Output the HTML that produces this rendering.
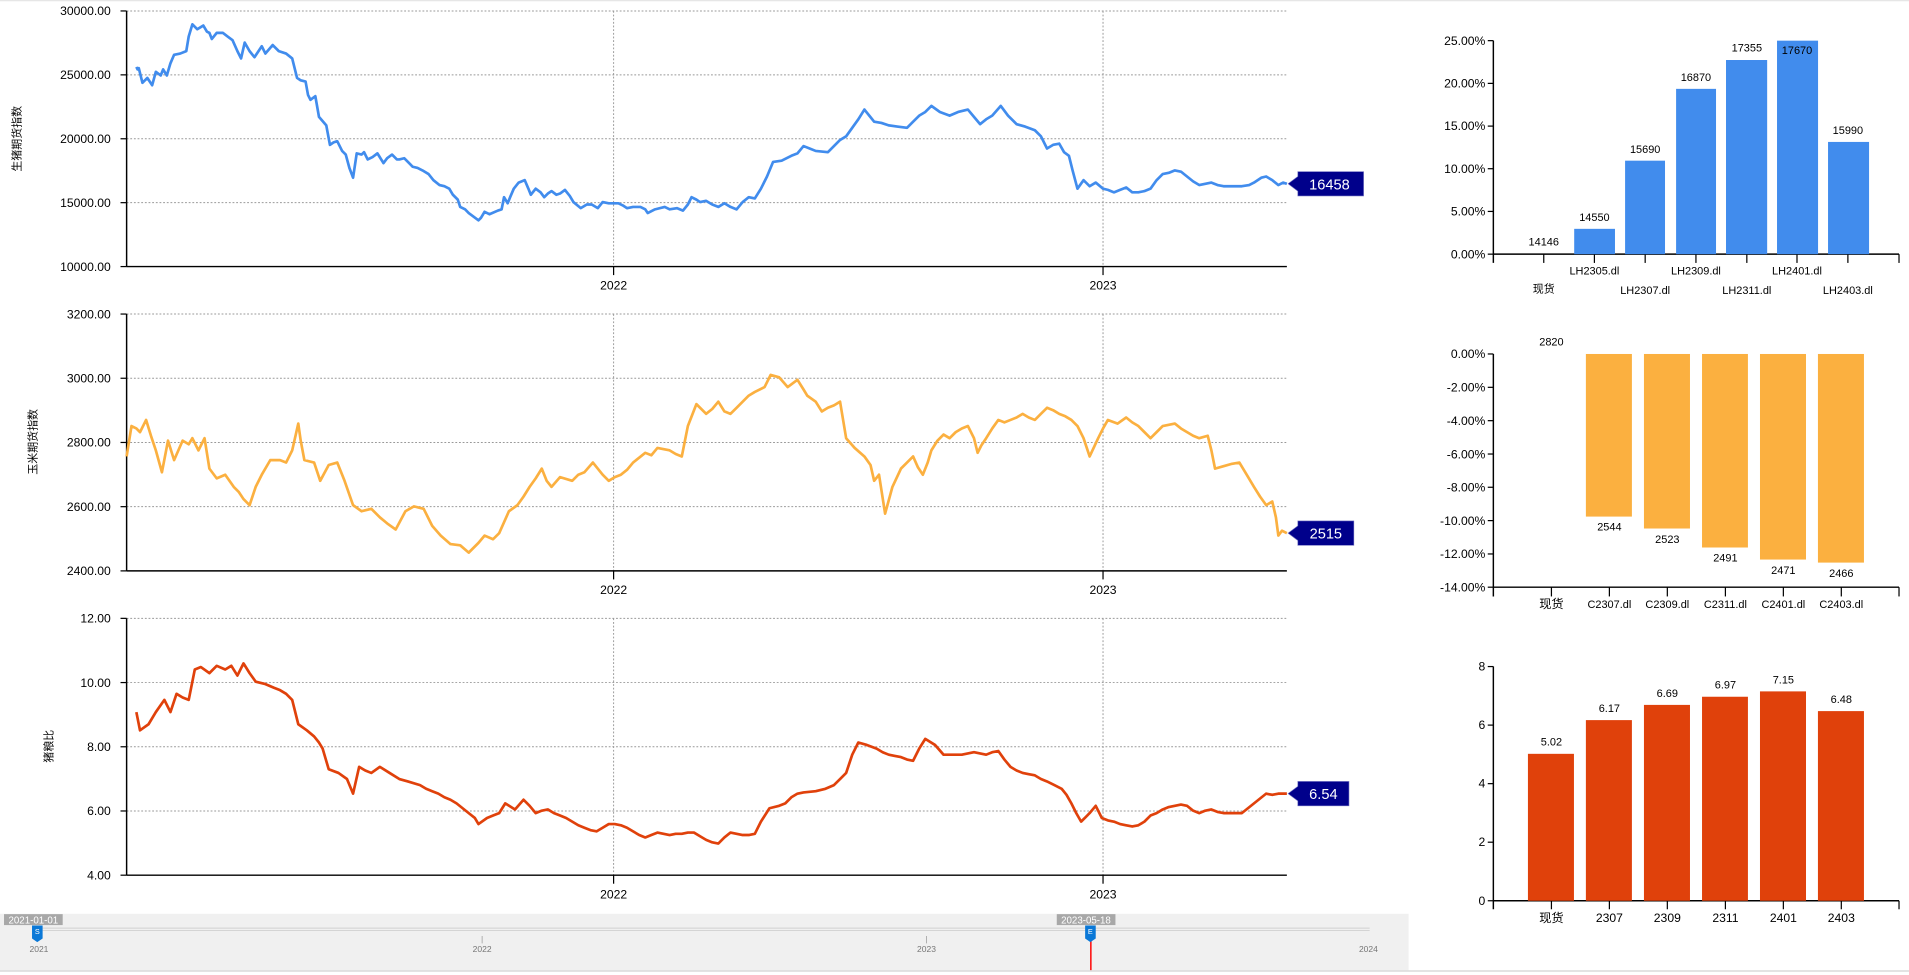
<!DOCTYPE html>
<html><head><meta charset="utf-8"><style>
html,body{margin:0;padding:0;background:#fff;width:1909px;height:975px;overflow:hidden}
svg{display:block}
text{font-family:"Liberation Sans","Noto Sans CJK SC",sans-serif;fill:#000}
.g{stroke:#999;stroke-width:0.8;stroke-dasharray:1.5 1.5}
.ax{stroke:#000;stroke-width:1.2;fill:none}
.yl{font-size:10px;text-anchor:end}
.xl{font-size:10px;text-anchor:middle}
.bl{font-size:9px;text-anchor:middle}
.ser{fill:none;stroke-width:2.2;stroke-linejoin:round}
</style></head><body>
<svg width="1909" height="975" viewBox="0 0 1568 801" preserveAspectRatio="none">
<line x1="0" y1="0.5" x2="1568" y2="0.5" stroke="#e6e6e6"/>

<!-- Chart 1 -->
<g>
<line class="g" x1="104" y1="9" x2="1057" y2="9"/><line class="g" x1="104" y1="61.5" x2="1057" y2="61.5"/><line class="g" x1="104" y1="114" x2="1057" y2="114"/><line class="g" x1="104" y1="166.5" x2="1057" y2="166.5"/>
<line class="g" x1="504" y1="9" x2="504" y2="219"/><line class="g" x1="906" y1="9" x2="906" y2="219"/>
<line class="ax" x1="104" y1="9" x2="104" y2="219"/><line class="ax" x1="104" y1="219" x2="1057" y2="219"/>
<g stroke="#000"><line x1="99" y1="9" x2="104" y2="9"/><line x1="99" y1="61.5" x2="104" y2="61.5"/><line x1="99" y1="114" x2="104" y2="114"/><line x1="99" y1="166.5" x2="104" y2="166.5"/><line x1="99" y1="219" x2="104" y2="219"/><line x1="504" y1="219" x2="504" y2="226"/><line x1="906" y1="219" x2="906" y2="226"/></g>
<text class="yl" x="91" y="12.5">30000.00</text><text class="yl" x="91" y="65">25000.00</text><text class="yl" x="91" y="117.5">20000.00</text><text class="yl" x="91" y="170">15000.00</text><text class="yl" x="91" y="222.5">10000.00</text>
<text class="xl" x="504" y="238">2022</text><text class="xl" x="906" y="238">2023</text>
<text font-size="9" transform="translate(17,114) rotate(-90)" text-anchor="middle">生猪期货指数</text>
<polyline class="ser" stroke="#418ced" points="112,55 113,57 114,56 117,68 121,64 125,70 128,59 132,62 134,57 137,62 140,52 143,45 148,44 153,42 155,30 158,20 162,24 167,21 170,26 172,27 174,32 178,27 183,27 187,30 191,33 195,42 198,48 201,35 205,42 209,47 215,38 218,44 224,37 229,42 235,44 240,48 244,64 247,66 251,67 253,78 255,82 259,79 262,96 268,103 271,119 274,117 277,116 281,124 284,127 287,138 290,146 293,126 297,127 299,125 302,131 306,129 310,126 315,134 318,130 322,127 326,131 328,131 332,130 336,134 339,137 343,138 347,140 352,143 356,148 361,152 365,153 369,155 372,160 376,164 378,170 382,172 385,175 389,178 393,181 395,179 398,174 402,176 409,173 412,172 414,162 417,167 419,162 422,155 426,150 431,148 434,155 436,160 440,155 444,158 447,162 450,159 453,157 457,160 460,159 464,156 468,161 471,166 477,171 482,168 486,168 491,171 495,166 500,167 504,167 508,167 512,169 515,171 520,170 526,170 530,172 532,175 538,172 546,170 550,172 556,171 561,173 565,168 568,162 572,164 575,166 580,165 585,168 590,170 595,167 600,170 605,172 610,166 615,162 620,163 625,155 630,145 635,133 642,132 650,128 655,126 660,120 665,122 670,124 680,125 685,120 690,115 695,112 700,105 705,98 710,90 714,95 718,100 724,101 730,103 737,104 745,105 750,100 755,95 760,92 765,87 772,92 780,95 787,92 795,90 800,96 805,102 810,98 815,95 822,87 828,95 835,102 842,104 850,107 855,112 860,122 865,119 870,118 874,125 878,128 881,140 885,155 890,148 895,153 900,150 906,155 910,156 915,158 920,156 925,154 930,158 935,158 940,157 945,155 950,148 955,143 960,142 965,140 970,141 975,145 980,149 985,152 990,151 995,150 1000,152 1005,153 1012,153 1020,153 1026,152 1030,150 1036,146 1040,145 1045,148 1050,152 1054,150 1057,151"/>
<polygon points="1058,151 1066,145 1066,141 1120,141 1120,161 1066,161 1066,157" fill="#00008b" stroke="#6b6bbf" stroke-width="0.5"/>
<text x="1092" y="155.5" text-anchor="middle" font-size="12" style="fill:#fff">16458</text>
</g>

<!-- Chart 2 -->
<g>
<line class="g" x1="104" y1="258" x2="1057" y2="258"/><line class="g" x1="104" y1="310.75" x2="1057" y2="310.75"/><line class="g" x1="104" y1="363.5" x2="1057" y2="363.5"/><line class="g" x1="104" y1="416.25" x2="1057" y2="416.25"/>
<line class="g" x1="504" y1="258" x2="504" y2="469"/><line class="g" x1="906" y1="258" x2="906" y2="469"/>
<line class="ax" x1="104" y1="258" x2="104" y2="469"/><line class="ax" x1="104" y1="469" x2="1057" y2="469"/>
<g stroke="#000"><line x1="99" y1="258" x2="104" y2="258"/><line x1="99" y1="310.75" x2="104" y2="310.75"/><line x1="99" y1="363.5" x2="104" y2="363.5"/><line x1="99" y1="416.25" x2="104" y2="416.25"/><line x1="99" y1="469" x2="104" y2="469"/><line x1="504" y1="469" x2="504" y2="476"/><line x1="906" y1="469" x2="906" y2="476"/></g>
<text class="yl" x="91" y="261.5">3200.00</text><text class="yl" x="91" y="314.25">3000.00</text><text class="yl" x="91" y="367">2800.00</text><text class="yl" x="91" y="419.75">2600.00</text><text class="yl" x="91" y="472.5">2400.00</text>
<text class="xl" x="504" y="488">2022</text><text class="xl" x="906" y="488">2023</text>
<text font-size="9" transform="translate(30,363) rotate(-90)" text-anchor="middle">玉米期货指数</text>
<polyline class="ser" stroke="#fbb040" points="104,375 108,350 112,352 115,355 120,345 124,358 128,370 133,388 138,362 143,378 150,362 155,365 158,360 163,370 168,360 172,385 178,393 185,390 192,400 196,404 200,410 205,415 210,400 215,390 222,378 230,378 235,380 240,370 245,348 247,362 250,378 258,380 263,395 270,382 277,380 283,395 290,415 297,420 305,418 312,425 318,430 325,435 333,420 340,416 348,418 355,432 362,440 370,447 378,448 385,454 393,446 398,440 405,443 410,438 418,420 425,415 430,408 435,400 440,393 445,385 449,395 453,400 460,392 470,395 475,390 480,388 487,380 495,390 500,395 505,392 510,390 515,386 520,380 525,376 530,372 535,374 540,368 550,370 555,373 560,375 565,350 572,332 580,340 585,336 590,330 595,338 600,340 605,335 610,330 615,325 620,322 628,318 633,308 640,310 647,318 655,312 660,320 663,325 670,330 675,338 680,335 685,333 690,330 695,360 702,368 710,375 715,382 718,395 722,390 727,422 733,400 740,385 745,380 750,375 754,384 758,390 762,380 765,370 770,362 775,357 780,360 785,355 790,352 795,350 800,360 803,372 806,366 810,360 815,352 820,345 825,347 830,345 835,343 840,340 845,343 850,345 855,340 860,335 865,337 870,340 875,342 880,345 885,350 890,360 895,375 902,360 906,352 910,345 918,348 925,343 930,347 935,350 940,355 945,360 950,355 955,350 960,349 965,348 970,352 975,355 980,358 985,360 992,358 995,370 998,385 1005,383 1012,381 1018,380 1024,390 1030,400 1035,408 1040,415 1045,412 1048,425 1050,440 1053,436 1057,438"/>
<polygon points="1058,438 1066,432 1066,428 1112,428 1112,448 1066,448 1066,444" fill="#00008b" stroke="#6b6bbf" stroke-width="0.5"/>
<text x="1089" y="442.5" text-anchor="middle" font-size="12" style="fill:#fff">2515</text>
</g>

<!-- Chart 3 -->
<g>
<line class="g" x1="104" y1="508" x2="1057" y2="508"/><line class="g" x1="104" y1="560.75" x2="1057" y2="560.75"/><line class="g" x1="104" y1="613.5" x2="1057" y2="613.5"/><line class="g" x1="104" y1="666.25" x2="1057" y2="666.25"/>
<line class="g" x1="504" y1="508" x2="504" y2="719"/><line class="g" x1="906" y1="508" x2="906" y2="719"/>
<line class="ax" x1="104" y1="508" x2="104" y2="719"/><line class="ax" x1="104" y1="719" x2="1057" y2="719"/>
<g stroke="#000"><line x1="99" y1="508" x2="104" y2="508"/><line x1="99" y1="560.75" x2="104" y2="560.75"/><line x1="99" y1="613.5" x2="104" y2="613.5"/><line x1="99" y1="666.25" x2="104" y2="666.25"/><line x1="99" y1="719" x2="104" y2="719"/><line x1="504" y1="719" x2="504" y2="726"/><line x1="906" y1="719" x2="906" y2="726"/></g>
<text class="yl" x="91" y="511.5">12.00</text><text class="yl" x="91" y="564.25">10.00</text><text class="yl" x="91" y="617">8.00</text><text class="yl" x="91" y="669.75">6.00</text><text class="yl" x="91" y="722.5">4.00</text>
<text class="xl" x="504" y="738">2022</text><text class="xl" x="906" y="738">2023</text>
<text font-size="9" transform="translate(43,613) rotate(-90)" text-anchor="middle">猪粮比</text>
<polyline class="ser" stroke="#e0410b" points="112,585 115,600 122,595 128,585 135,575 140,585 145,570 150,573 155,575 160,550 165,548 172,553 178,547 185,550 190,547 195,555 200,545 205,553 210,560 218,562 225,565 230,567 235,570 240,575 245,595 252,600 258,605 262,610 265,615 270,632 278,635 285,640 290,652 295,630 300,633 305,635 312,630 320,635 328,640 335,642 345,645 350,648 355,650 360,652 365,655 370,657 375,660 380,664 385,668 390,672 393,677 400,672 405,670 410,668 415,660 423,665 430,657 435,662 440,668 445,666 450,665 455,668 460,670 465,672 470,675 475,678 480,680 485,682 490,683 495,680 500,677 505,677 510,678 515,680 520,683 525,686 530,688 535,686 540,684 545,685 550,686 555,685 560,685 565,684 570,684 575,687 580,690 585,692 590,693 595,688 600,684 605,685 610,686 615,686 620,685 625,675 632,664 640,662 645,660 650,655 655,652 660,651 670,650 678,648 685,645 690,640 695,635 700,620 705,610 712,612 720,615 725,618 730,620 735,621 740,622 745,624 750,625 755,615 760,607 768,612 775,620 782,620 790,620 795,619 800,618 805,619 810,620 815,618 820,617 825,624 830,630 835,633 840,635 845,636 850,637 855,640 860,642 866,645 872,648 876,653 880,660 884,668 888,675 892,671 895,668 900,662 905,672 910,674 915,675 920,677 925,678 930,679 935,678 940,675 945,670 950,668 955,665 960,663 965,662 970,661 975,662 980,666 985,668 990,666 995,665 1000,667 1005,668 1012,668 1020,668 1025,664 1030,660 1035,656 1040,652 1045,653 1050,652 1054,652 1057,652"/>
<polygon points="1058,652 1066,646 1066,642 1108,642 1108,662 1066,662 1066,658" fill="#00008b" stroke="#6b6bbf" stroke-width="0.5"/>
<text x="1087" y="656.5" text-anchor="middle" font-size="12" style="fill:#fff">6.54</text>
</g>

<!-- Bar chart 1 -->
<g>
<line class="ax" x1="1226.6" y1="33.4" x2="1226.6" y2="216"/><line class="ax" x1="1226.6" y1="208.8" x2="1559.8" y2="208.8"/>
<g stroke="#000"><line x1="1222" y1="33.4" x2="1226.6" y2="33.4"/><line x1="1222" y1="68.5" x2="1226.6" y2="68.5"/><line x1="1222" y1="103.6" x2="1226.6" y2="103.6"/><line x1="1222" y1="138.6" x2="1226.6" y2="138.6"/><line x1="1222" y1="173.7" x2="1226.6" y2="173.7"/><line x1="1222" y1="208.8" x2="1226.6" y2="208.8"/>
<line x1="1268" y1="208.8" x2="1268" y2="216"/><line x1="1309.6" y1="208.8" x2="1309.6" y2="216"/><line x1="1351.3" y1="208.8" x2="1351.3" y2="216"/><line x1="1393" y1="208.8" x2="1393" y2="216"/><line x1="1434.8" y1="208.8" x2="1434.8" y2="216"/><line x1="1476" y1="208.8" x2="1476" y2="216"/><line x1="1517.8" y1="208.8" x2="1517.8" y2="216"/><line x1="1559.8" y1="208.8" x2="1559.8" y2="216"/></g>
<g class="yl"><text class="yl" x="1220" y="37">25.00%</text><text class="yl" x="1220" y="72">20.00%</text><text class="yl" x="1220" y="107">15.00%</text><text class="yl" x="1220" y="142">10.00%</text><text class="yl" x="1220" y="177">5.00%</text><text class="yl" x="1220" y="212.3">0.00%</text></g>
<g fill="#418ced"><rect x="1293" y="188" width="33.5" height="20.8"/><rect x="1334.8" y="132" width="32.8" height="76.8"/><rect x="1376.7" y="73" width="32.8" height="135.8"/><rect x="1417.7" y="49.3" width="33.8" height="159.5"/><rect x="1459.6" y="33.4" width="33.7" height="175.4"/><rect x="1501.5" y="116.6" width="33.7" height="92.2"/></g>
<text class="bl" x="1268" y="201.5">14146</text><text class="bl" x="1309.6" y="181.5">14550</text><text class="bl" x="1351.3" y="125.5">15690</text><text class="bl" x="1393" y="66.5">16870</text><text class="bl" x="1434.8" y="42.5">17355</text><text class="bl" x="1476" y="44.5">17670</text><text class="bl" x="1517.8" y="110">15990</text>
<text class="bl" x="1268" y="240.5">现货</text><text class="bl" x="1309.6" y="225.5">LH2305.dl</text><text class="bl" x="1351.3" y="241.5">LH2307.dl</text><text class="bl" x="1393" y="225.5">LH2309.dl</text><text class="bl" x="1434.8" y="241.5">LH2311.dl</text><text class="bl" x="1476" y="225.5">LH2401.dl</text><text class="bl" x="1517.8" y="241.5">LH2403.dl</text>
</g>

<!-- Bar chart 2 -->
<g>
<line class="ax" x1="1226.6" y1="290.8" x2="1226.6" y2="490"/><line class="ax" x1="1226.6" y1="482.4" x2="1559.8" y2="482.4"/>
<g stroke="#000"><line x1="1222" y1="290.8" x2="1226.6" y2="290.8"/><line x1="1222" y1="318.2" x2="1226.6" y2="318.2"/><line x1="1222" y1="345.6" x2="1226.6" y2="345.6"/><line x1="1222" y1="373" x2="1226.6" y2="373"/><line x1="1222" y1="400.3" x2="1226.6" y2="400.3"/><line x1="1222" y1="427.7" x2="1226.6" y2="427.7"/><line x1="1222" y1="455.1" x2="1226.6" y2="455.1"/><line x1="1222" y1="482.4" x2="1226.6" y2="482.4"/>
<line x1="1274.3" y1="482.4" x2="1274.3" y2="490"/><line x1="1321.9" y1="482.4" x2="1321.9" y2="490"/><line x1="1369.5" y1="482.4" x2="1369.5" y2="490"/><line x1="1417.2" y1="482.4" x2="1417.2" y2="490"/><line x1="1464.8" y1="482.4" x2="1464.8" y2="490"/><line x1="1512.4" y1="482.4" x2="1512.4" y2="490"/><line x1="1559.8" y1="482.4" x2="1559.8" y2="490"/></g>
<text class="yl" x="1220" y="294.3">0.00%</text><text class="yl" x="1220" y="321.7">-2.00%</text><text class="yl" x="1220" y="349.1">-4.00%</text><text class="yl" x="1220" y="376.5">-6.00%</text><text class="yl" x="1220" y="403.8">-8.00%</text><text class="yl" x="1220" y="431.2">-10.00%</text><text class="yl" x="1220" y="458.6">-12.00%</text><text class="yl" x="1220" y="485.9">-14.00%</text>
<g fill="#fbb040"><rect x="1302.6" y="290.8" width="37.8" height="133.6"/><rect x="1350.3" y="290.8" width="37.8" height="143.4"/><rect x="1398" y="290.8" width="37.7" height="159"/><rect x="1445.6" y="290.8" width="37.8" height="168.9"/><rect x="1493.2" y="290.8" width="37.8" height="171.4"/></g>
<text class="bl" x="1274.3" y="284">2820</text><text class="bl" x="1321.9" y="436">2544</text><text class="bl" x="1369.5" y="446">2523</text><text class="bl" x="1417.2" y="461.5">2491</text><text class="bl" x="1464.8" y="471.5">2471</text><text class="bl" x="1512.4" y="474">2466</text>
<text class="xl" x="1274.3" y="499.5">现货</text><text class="bl" x="1321.9" y="499.5">C2307.dl</text><text class="bl" x="1369.5" y="499.5">C2309.dl</text><text class="bl" x="1417.2" y="499.5">C2311.dl</text><text class="bl" x="1464.8" y="499.5">C2401.dl</text><text class="bl" x="1512.4" y="499.5">C2403.dl</text>
</g>

<!-- Bar chart 3 -->
<g>
<line class="ax" x1="1226.6" y1="547.6" x2="1226.6" y2="747"/><line class="ax" x1="1226.6" y1="740" x2="1559.8" y2="740"/>
<g stroke="#000"><line x1="1222" y1="547.6" x2="1226.6" y2="547.6"/><line x1="1222" y1="595.7" x2="1226.6" y2="595.7"/><line x1="1222" y1="643.8" x2="1226.6" y2="643.8"/><line x1="1222" y1="691.9" x2="1226.6" y2="691.9"/><line x1="1222" y1="740" x2="1226.6" y2="740"/>
<line x1="1274.3" y1="740" x2="1274.3" y2="747"/><line x1="1321.9" y1="740" x2="1321.9" y2="747"/><line x1="1369.5" y1="740" x2="1369.5" y2="747"/><line x1="1417.2" y1="740" x2="1417.2" y2="747"/><line x1="1464.8" y1="740" x2="1464.8" y2="747"/><line x1="1512.4" y1="740" x2="1512.4" y2="747"/><line x1="1559.8" y1="740" x2="1559.8" y2="747"/></g>
<text class="yl" x="1220" y="551">8</text><text class="yl" x="1220" y="599">6</text><text class="yl" x="1220" y="647">4</text><text class="yl" x="1220" y="695">2</text><text class="yl" x="1220" y="743.5">0</text>
<g fill="#e0410b"><rect x="1255" y="619.3" width="37.8" height="120.7"/><rect x="1302.6" y="591.6" width="37.8" height="148.4"/><rect x="1350.3" y="579.1" width="37.8" height="160.9"/><rect x="1398" y="572.4" width="37.7" height="167.6"/><rect x="1445.6" y="568" width="37.8" height="172"/><rect x="1493.2" y="584.2" width="37.8" height="155.8"/></g>
<text class="bl" x="1274.3" y="612.5">5.02</text><text class="bl" x="1321.9" y="585">6.17</text><text class="bl" x="1369.5" y="572.5">6.69</text><text class="bl" x="1417.2" y="565.5">6.97</text><text class="bl" x="1464.8" y="561.5">7.15</text><text class="bl" x="1512.4" y="577.5">6.48</text>
<text class="xl" x="1274.3" y="757.5">现货</text><text class="xl" x="1321.9" y="757.5">2307</text><text class="xl" x="1369.5" y="757.5">2309</text><text class="xl" x="1417.2" y="757.5">2311</text><text class="xl" x="1464.8" y="757.5">2401</text><text class="xl" x="1512.4" y="757.5">2403</text>
</g>

<!-- Slider -->
<g>
<rect x="0" y="750.7" width="1157" height="46.5" fill="#f0f0f0"/>
<line x1="0" y1="797.7" x2="1568" y2="797.7" stroke="#dadada" stroke-width="1.2"/>
<line x1="35" y1="762.5" x2="1125" y2="762.5" stroke="#d0d0d0" stroke-width="0.8"/>
<line x1="35" y1="764.5" x2="1125" y2="764.5" stroke="#d0d0d0" stroke-width="0.8"/>
<g stroke="#999" stroke-width="0.6"><line x1="396" y1="769" x2="396" y2="775"/><line x1="761" y1="769" x2="761" y2="775"/></g>
<g font-size="7" text-anchor="middle"><text x="32" y="782" style="fill:#777">2021</text><text x="396" y="782" style="fill:#777">2022</text><text x="761" y="782" style="fill:#777">2023</text><text x="1124" y="782" style="fill:#777">2024</text></g>
<line x1="896" y1="766" x2="896" y2="797" stroke="#f00" stroke-width="1.2"/>
<rect x="3.3" y="751" width="48.2" height="9" fill="#a8a8a8"/>
<text x="27.4" y="758.5" font-size="8" text-anchor="middle" style="fill:#fff">2021-01-01</text>
<rect x="868" y="751" width="48.2" height="9" fill="#a8a8a8"/>
<text x="892" y="758.5" font-size="8" text-anchor="middle" style="fill:#fff">2023-05-18</text>
<polygon points="26.3,760.3 35,760.3 35,771 30.6,774 26.3,771" fill="#0a78d7"/>
<text x="30.6" y="767.5" font-size="6" text-anchor="middle" style="fill:#fff">S</text>
<polygon points="891.3,760.3 900,760.3 900,771 895.6,774 891.3,771" fill="#0a78d7"/>
<text x="895.6" y="767.5" font-size="6" text-anchor="middle" style="fill:#fff">E</text>
</g>
</svg>
</body></html>
